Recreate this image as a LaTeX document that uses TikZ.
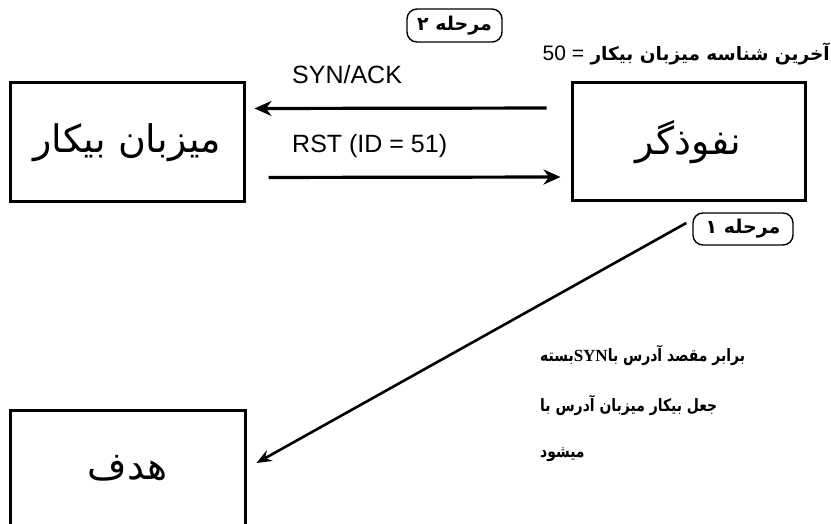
\documentclass[tikz,border=0pt]{standalone}
\usepackage{fontspec}
\setmainfont{Liberation Sans}
\newfontfamily\arabicfont[Script=Arabic]{DejaVu Sans}
\newfontfamily\notefont[Script=Arabic, FakeStretch=0.82]{DejaVu Sans}
\newfontfamily\synfont{Liberation Serif}
\TeXXeTstate=1
\usetikzlibrary{arrows.meta}
\newcommand{\faword}[1]{\mbox{\beginR#1\endR}}
\tikzset{
    hostbox/.style={draw, line width=3pt, inner sep=0pt,
        font=\arabicfont\fontsize{38}{44}\selectfont},
    steppill/.style={draw, rounded corners=10pt, line width=1.4pt,
        minimum width=95pt, minimum height=33pt, inner sep=0pt,
        font=\arabicfont\bfseries\fontsize{19}{22}\selectfont},
    msg/.style={-{Stealth[length=17pt,width=15pt]}, line width=3.2pt},
    msglabel/.style={anchor=west, inner sep=0pt, font=\fontsize{25}{30}\selectfont},
    note/.style={anchor=west, inner sep=0pt,
        font=\notefont\bfseries\fontsize{17}{20}\selectfont}
}

\begin{document}
\begin{tikzpicture}[x=1pt, y=-1pt]
	\useasboundingbox (0,0) rectangle (831,524);
	
	% hosts
	\node[hostbox, minimum width=234pt, minimum height=119pt] (idle) at (127,142.5) {\faword{میزبان بیکار}};
	\node[hostbox, minimum width=233pt, minimum height=118pt] (intruder) at (688.5,142) {\faword{نفوذگر}};
	\node[hostbox, minimum width=235pt, minimum height=116pt] (target) at (127.5,468) {\faword{هدف}};
	
	% steps
	\node[steppill] (step2) at (454.5,25.5) {\faword{مرحله ۲}};
	\node[steppill, minimum width=100pt, minimum height=32pt] (step1) at (743,229) {\faword{مرحله ۱}};
	\node[anchor=east, inner sep=0pt, font=\arabicfont\bfseries\fontsize{18.5}{22}\selectfont] (lastid) at (830,54)
		{\beginR آخرین شناسه میزبان بیکار {\normalfont\fontsize{21}{25}\selectfont= \beginL 50\endL}\endR};
	
	% messages
	\draw[msg, shorten <=24pt, shorten >=9pt] ([yshift=34pt]intruder.west) -- ([yshift=34pt]idle.east);
	\draw[msg, shorten <=23pt, shorten >=10pt] ([yshift=-35pt]idle.east) -- ([yshift=-35pt]intruder.west);
	\node[msglabel] (synack) at (292,75) {SYN/ACK};
	\node[msglabel] (rst) at (292,146) {RST (ID = 51)};
	\draw[msg, line width=2.6pt, -{Stealth[length=15pt,width=12pt]}] ([xshift=-6pt, yshift=6pt]step1.west) -- ([xshift=10pt, yshift=5pt]target.east);
	
	% spoofed packet note (words stand left to right, as printed)
	\node[note] (note1) at (540,355) {\beginR برابر مقصد آدرس با\beginL{\synfont\bfseries SYN}\endL بسته\endR};
	\node[note] (note2) at (540,405) {\beginR جعل بیکار میزبان آدرس با\endR};
	\node[note] (note3) at (540,455) {\faword{میشود}};
	
\end{tikzpicture}
\end{document}
